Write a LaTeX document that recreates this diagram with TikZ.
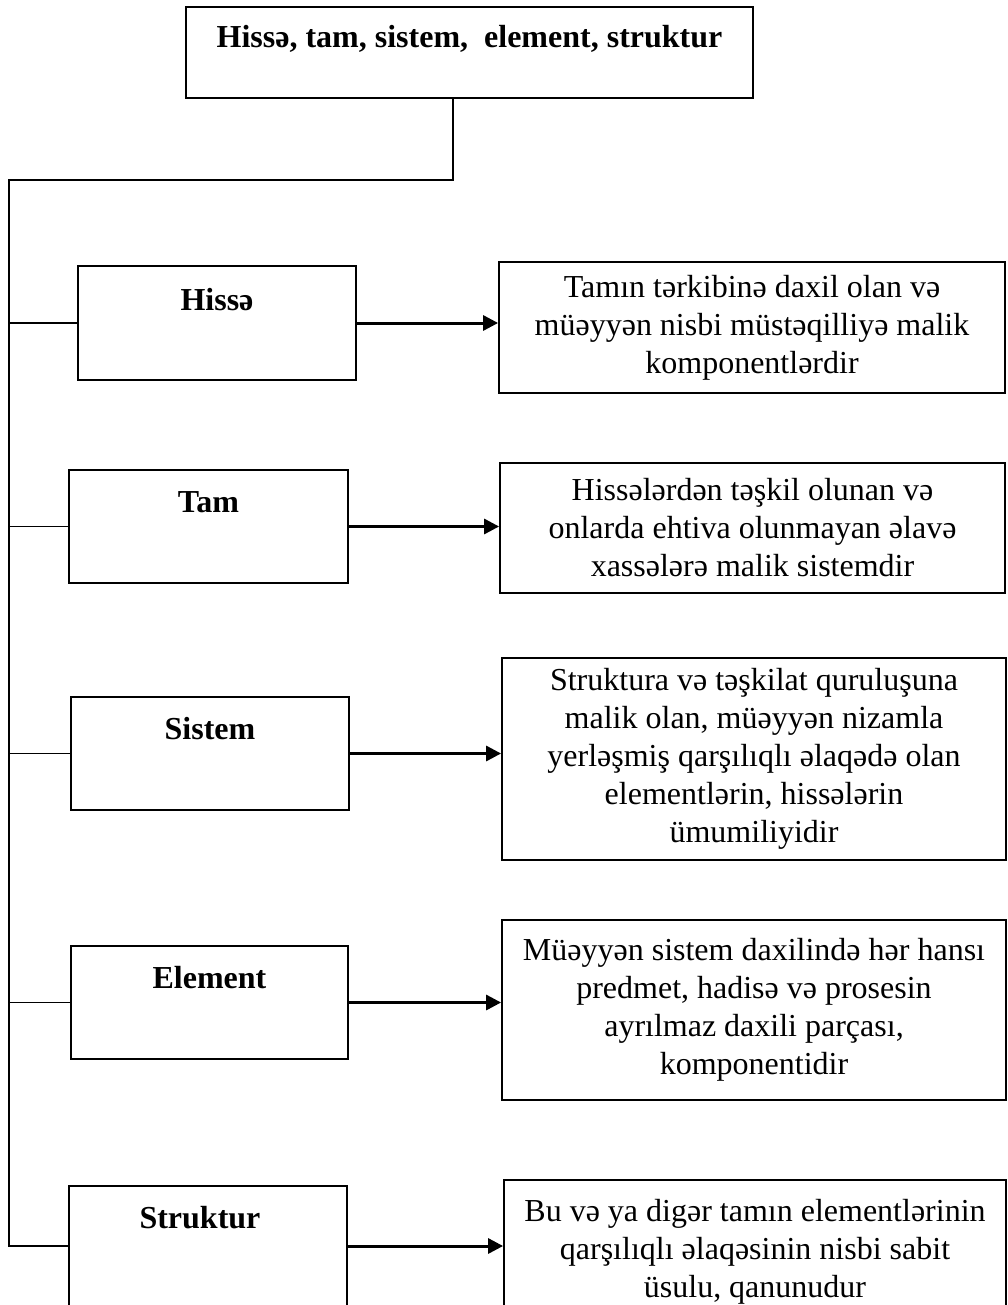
\documentclass[tikz,border=0pt]{standalone}
\usepackage{fontspec}
\setmainfont{Liberation Serif}
\usetikzlibrary{arrows.meta}
\begin{document}
\begin{tikzpicture}[x=1pt,y=-1pt,
  box/.style={draw, line width=1.8pt, inner sep=0pt},
  lbl/.style={font=\bfseries\fontsize{32}{38}\selectfont, inner sep=0pt},
  desc/.style={draw, line width=1.8pt, inner sep=0pt, align=center, font=\fontsize{32}{38}\selectfont},
  conn/.style={line width=1.8pt},
  arr/.style={line width=3pt, -{Triangle[length=15pt,width=15pt]}}]
\useasboundingbox (0,0) rectangle (1008,1305);
\clip (0,0) rectangle (1008,1305);
% title
\node[box, minimum width=567pt, minimum height=91pt] (top) at (469.5,52.5) {};
\node[lbl] (topT) at ([yshift=-33pt]top.north) {Hissə, tam, sistem, \ element, struktur};
% left boxes
\node[box, minimum width=278pt, minimum height=114pt] (hisse) at (217,323) {};
\node[lbl] (hisseT) at ([yshift=-34pt]hisse.north) {Hissə};
\node[box, minimum width=279pt, minimum height=113pt] (tam) at (208.5,526.5) {};
\node[lbl] (tamT) at ([yshift=-33pt]tam.north) {Tam};
\node[box, minimum width=278pt, minimum height=113pt] (sistem) at (210,753.5) {};
\node[lbl] (sistemT) at ([yshift=-32pt]sistem.north) {Sistem};
\node[box, minimum width=277pt, minimum height=113pt] (element) at (209.5,1002.5) {};
\node[lbl] (elementT) at ([yshift=-32pt]element.north) {Element};
\node[box, minimum width=278pt, minimum height=120pt] (struk) at (208,1246) {};
\node[lbl] (strukT) at ([xshift=-8pt,yshift=-32pt]struk.north) {Struktur};
% right boxes
\node[desc, minimum width=506pt, minimum height=131pt] (r1) at (752,327.5)
  {Tamın tərkibinə daxil olan və\\ müəyyən nisbi müstəqilliyə malik\\ komponentlərdir};
\node[desc, minimum width=505pt, minimum height=130pt] (r2) at (752.5,528)
  {Hissələrdən təşkil olunan və\\ onlarda ehtiva olunmayan əlavə\\ xassələrə malik sistemdir};
\node[desc, minimum width=504pt, minimum height=202pt] (r3) at (754,759)
  {Struktura və təşkilat quruluşuna\\ malik olan, müəyyən nizamla\\ yerləşmiş qarşılıqlı əlaqədə olan\\ elementlərin, hissələrin\\ ümumiliyidir};
\node[desc, minimum width=504pt, minimum height=180pt] (r4) at (754,1010)
  {Müəyyən sistem daxilində hər hansı\\ predmet, hadisə və prosesin\\ ayrılmaz daxili parçası,\\ komponentidir};
\node[desc, minimum width=502pt, minimum height=144pt] (r5) at (755,1252)
  {Bu və ya digər tamın elementlərinin\\ qarşılıqlı əlaqəsinin nisbi sabit\\ üsulu, qanunudur};
% connectors
\coordinate (j) at (453,180);
\coordinate (vl) at (9,180);
\draw[conn] (top.south -| j) -- (j) -- (vl) -- (vl |- struk.west) -- (struk.west);
\foreach \n in {hisse,tam,sistem,element}{
  \draw[conn] (vl |- \n.west) -- (\n.west);
}
\draw[arr] (hisse.east) -- (r1.west |- hisse.east);
\draw[arr] (tam.east) -- (r2.west |- tam.east);
\draw[arr] (sistem.east) -- (r3.west |- sistem.east);
\draw[arr] (element.east) -- (r4.west |- element.east);
\draw[arr] (struk.east) -- (r5.west |- struk.east);
\end{tikzpicture}
\end{document}
